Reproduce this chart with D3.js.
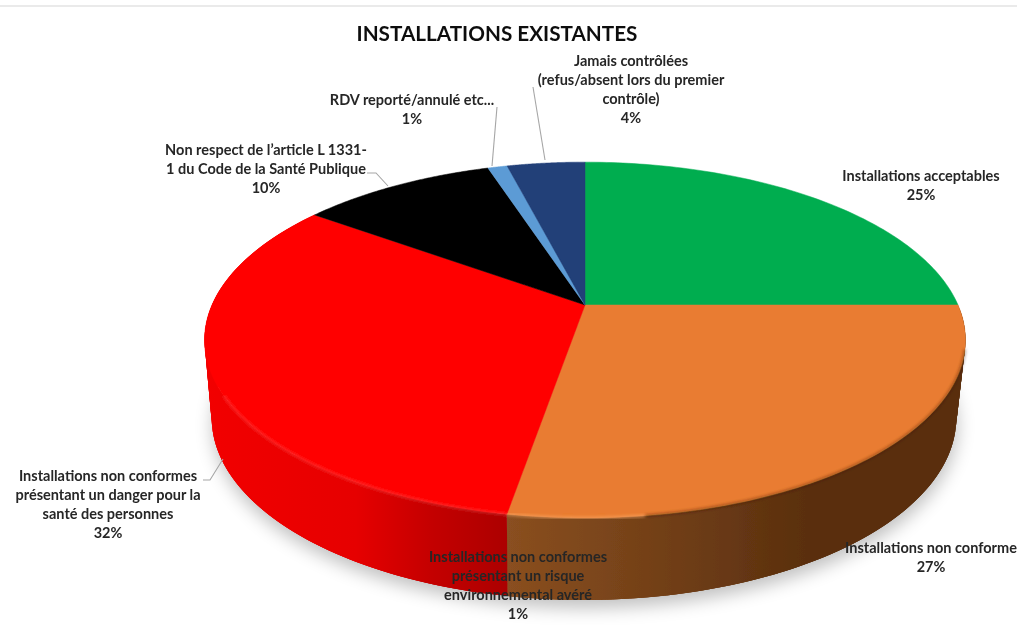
<!DOCTYPE html>
<html><head><meta charset="utf-8">
<script src="https://cdn.jsdelivr.net/npm/d3@7"></script>
<style>html,body{margin:0;background:#fff;overflow:hidden}svg{display:block}text{font-family:Lato,"Open Sans",sans-serif;font-weight:700;fill:#262626}</style>
</head><body><svg id="c" width="1017" height="625"></svg>
<script>
const chartTitle = "INSTALLATIONS EXISTANTES";
const categories = ["Installations acceptables","Installations non conformes","Installations non conformes présentant un danger pour la santé des personnes","Non respect de l’article L 1331-1 du Code de la Santé Publique","RDV reporté/annulé etc...","Jamais contrôlées"];
const sliceShares = [25, 27.7, 32.3, 10, 1, 4];
const sliceColors = ["#00ad50","#e97c30","#ff0000","#000000","#5b9bd5","#203f78"];
const wallStops = [null,
 [[0,"#8a4f20"],[.55,"#6a3a14"],[.8,"#5a2f0e"],[1,"#5a2f0e"]],
 [[0,"#f20000"],[.5,"#e60000"],[.75,"#c40000"],[1,"#ac0000"]],
 null,null,null];
const labelLines = [
 ["Installations acceptables","25%"],
 ["Installations non conforme","27%"],
 ["Installations non conformes","présentant un risque","environnemental avéré","1%"],
 ["Installations non conformes","présentant un danger pour la","santé des personnes","32%"],
 ["Non respect de l’article L 1331-","1 du Code de la Santé Publique","10%"],
 ["RDV reporté/annulé etc...","1%"],
 ["Jamais contrôlées","(refus/absent lors du premier","contrôle)","4%"]
];
const labelAnchors = [[921,181],[931,553],[518,562],[108,481],[266,155],[412,105],[631,66]];
const leaders = [
 [[203,480],[210,480],[223,459]],
 [[367,173],[376,173],[388,186]],
 [[497,107],[492,166]],
 [[533,87],[545,160]]
];
const svg = d3.select("#c");
const defs = svg.append("defs");
const f=(id,s)=>defs.append("filter").attr("id",id).attr("x","-10%").attr("y","-10%").attr("width","120%").attr("height","120%").append("feGaussianBlur").attr("stdDeviation",s);
f("soft",0.6); f("sh",9); f("hl",1.5);

const proj = ({cx,cy,rx,ry,p}) => t => {const u=Math.sin(t),v=-Math.cos(t),w=1-p*v;return [cx+rx*u/w,cy+ry*v/w];};
const top3 = proj({cx:585,cy:305,rx:373,ry:171,p:0.197});
const bot3 = proj({cx:584,cy:382,rx:365,ry:175,p:0.197});
const arcs = d3.pie().sort(null).value(d=>d)(sliceShares);
const tau = Math.PI*2;
const line = d3.line();
const samples = (a,b) => d3.range(0,91).map(i=>a+(b-a)*i/90);

const root = svg.append("g").attr("filter","url(#soft)");
root.append("line").attr("x1",0).attr("x2",1017).attr("y1",6).attr("y2",6).attr("stroke","#e3e3e3").attr("stroke-width",1.5);

// shadow
root.append("path").attr("d",line(samples(0,tau).map(t=>{const q=bot3(t);return [q[0]+1,q[1]+8];}))+"Z").attr("fill","#000").attr("opacity",.25).attr("filter","url(#sh)");

// walls: overlapping strips, so the silhouette between rims is covered without seams
arcs.forEach((a,i)=>{
  if(!wallStops[i]) return;
  const g = defs.append("linearGradient").attr("id","w"+i).attr("gradientUnits","userSpaceOnUse").attr("y1",0).attr("y2",0);
  if(i===1) g.attr("x1",507).attr("x2",880); else g.attr("x1",205).attr("x2",507);
  wallStops[i].forEach(s=>g.append("stop").attr("offset",s[0]).attr("stop-color",s[1]));
  const ts = samples(a.startAngle,a.endAngle);
  for(let k=0;k<ts.length-1;k++){
    const e=ts[Math.min(k+3,ts.length-1)];
    root.append("path").attr("d",line([top3(ts[k]),top3((ts[k]+e)/2),top3(e),bot3(e),bot3((ts[k]+e)/2),bot3(ts[k])])+"Z").attr("fill",`url(#w${i})`);
  }
});
// top face
arcs.forEach((a,i)=>{
  const pts=[[585,305]].concat(samples(a.startAngle,a.endAngle).map(top3));
  root.append("path").attr("d",line(pts)+"Z").attr("fill",sliceColors[i]).attr("stroke",sliceColors[i]).attr("stroke-width",.5);
});
// bevel highlight along the front rim
const rim = (a,b,c,o,w)=>root.append("path").attr("d",line(samples(a,b).map(top3))).attr("fill","none").attr("stroke",c).attr("stroke-opacity",o).attr("stroke-width",w).attr("filter","url(#hl)");
rim(arcs[1].endAngle-0.3, arcs[1].endAngle, "#ffb070", .6, 2.5);
rim(arcs[1].startAngle+0.25, arcs[1].endAngle-0.3, "#3a1c05", .5, 2);
rim(arcs[2].startAngle, arcs[2].startAngle+0.9, "#ff6a6a", .4, 2.5);
// labels
root.selectAll("path.l").data(leaders).join("path").attr("d",d=>line(d)).attr("fill","none").attr("stroke","#a6a6a6").attr("stroke-width",1.1);
root.append("text").attr("x",497).attr("y",41).attr("text-anchor","middle").style("font-size","20.7px").style("fill","#111").text(chartTitle);
labelLines.forEach((ls,i)=>{
  const t=root.append("text").attr("text-anchor","middle").style("font-size","14.5px");
  ls.forEach((s,j)=>t.append("tspan").attr("x",labelAnchors[i][0]).attr("y",labelAnchors[i][1]+j*19).text(s));
});
</script></body></html>
